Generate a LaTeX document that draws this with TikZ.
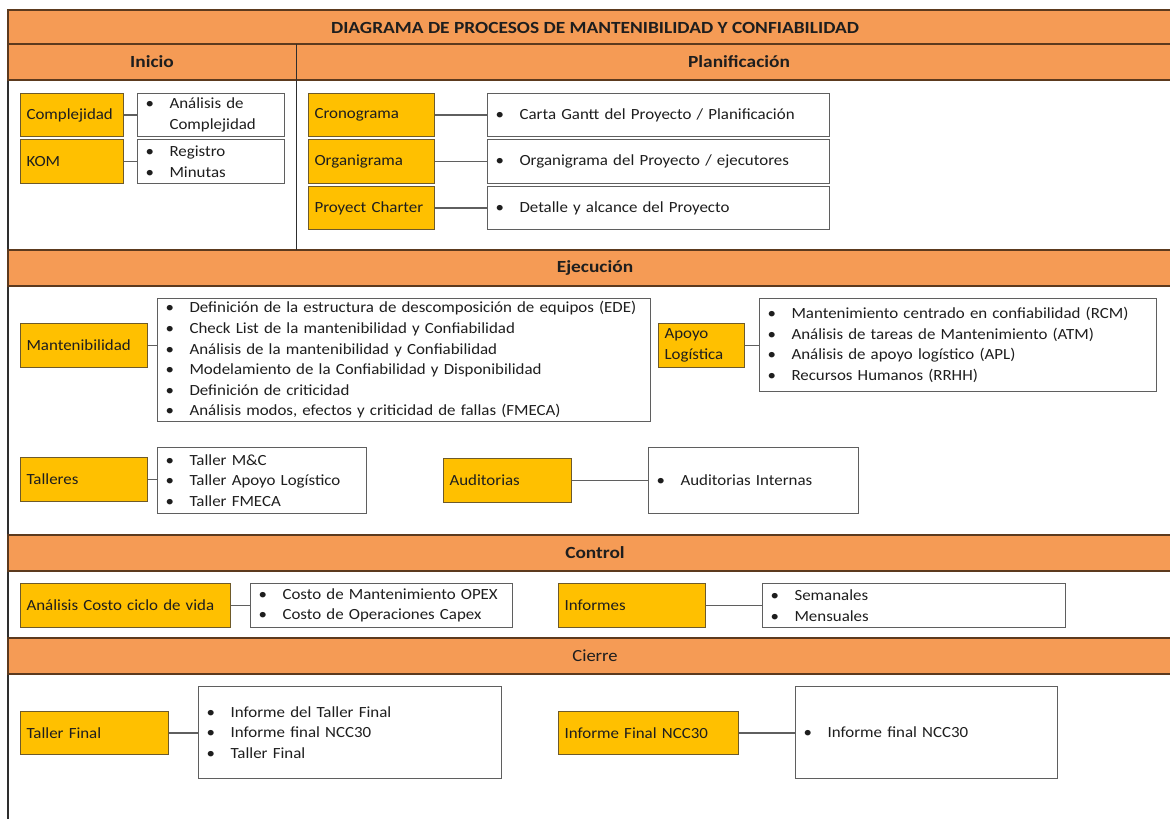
\documentclass[tikz,border=0pt]{standalone}
\usepackage{fontspec}
\setmainfont{Carlito}[FakeStretch=1.09, BoldFeatures={FakeStretch=1.14}]
\definecolor{barfill}{HTML}{F59B55}
\definecolor{barline}{HTML}{5C3A1E}
\definecolor{yfill}{HTML}{FFC000}
\definecolor{yline}{HTML}{6E5A2A}
\definecolor{lline}{HTML}{5F5F5F}
\definecolor{txt}{HTML}{1E1E1E}
\definecolor{frame}{HTML}{2E2E2E}
\newcommand\li{\hspace*{2pt}\makebox[24pt][l]{\textbullet}}
\newcommand\lc{\hspace*{26pt}}
\newcommand\bx[7]{%
  \pgfmathsetmacro\bxw{#5-#3-12}%
  \pgfmathsetmacro\bxh{#6-#4}%
  \node[#2, anchor=north west, text width=\bxw pt, minimum height=\bxh pt] (#1) at (#3,#4) {#7};}
\tikzset{
  base/.style={inner xsep=6pt, inner ysep=0pt, align=left, font=\fontsize{15.5}{20.6}\selectfont, text=txt, line width=1.1pt},
  ybox/.style={base, draw=yline, fill=yfill},
  lbox/.style={base, draw=lline, fill=white},
  bar/.style={draw=barline, fill=barfill, line width=1.3pt},
  bartext/.style={font=\bfseries\fontsize{17}{20}\selectfont, text=txt},
  barplain/.style={font=\fontsize{17}{20}\selectfont, text=txt},
  conn/.style={draw=lline, line width=1.2pt},
}
\begin{document}
\begin{tikzpicture}[x=1pt,y=-1pt]
\useasboundingbox (0,0) rectangle (1170,819);
\clip (0,0) rectangle (1170,819);
\fill[white] (0,0) rectangle (1170,819);
% outer frame
\draw[frame, line width=1.4pt] (8,10) rectangle (1182,830);
% bars
\draw[bar] (8,10) rectangle (1182,44);
\draw[bar] (8,44) rectangle (1182,80);
\draw[bar] (8,250) rectangle (1182,286);
\draw[bar] (8,535) rectangle (1182,571);
\draw[bar] (8,638) rectangle (1182,674);
\draw[frame, line width=1.2pt] (296.5,44) -- (296.5,250);
% bar texts
\node[bartext] (title) at (595,27.5) {DIAGRAMA DE PROCESOS DE MANTENIBILIDAD Y CONFIABILIDAD};
\node[bartext] (inicio) at (152,62) {Inicio};
\node[bartext] (plan) at (739,62) {Planificación};
\node[bartext] (ejec) at (595,268) {Ejecución};
\node[bartext] (ctrl) at (595,553) {Control};
\node[barplain] (cierre) at (595,656) {Cierre};
% Inicio
\bx{comp}{ybox}{20}{93}{123}{136}{Complejidad}
\bx{compL}{lbox}{137}{93}{284}{136}{\li Análisis de\\\lc Complejidad}
\bx{kom}{ybox}{20}{139}{123}{183}{KOM}
\bx{komL}{lbox}{137}{139}{284}{183}{\li Registro\\\li Minutas}
% Planificacion
\bx{cron}{ybox}{308}{93}{434}{136}{Cronograma}
\bx{cronL}{lbox}{487}{93}{829}{136}{\li Carta Gantt del Proyecto / Planificación}
\bx{org}{ybox}{308}{139}{434}{183}{Organigrama}
\bx{orgL}{lbox}{487}{139}{829}{183}{\li Organigrama del Proyecto / ejecutores}
\bx{pc}{ybox}{308}{186}{434}{229}{Proyect Charter}
\bx{pcL}{lbox}{487}{186}{829}{229}{\li Detalle y alcance del Proyecto}
% Ejecucion
\bx{mant}{ybox}{20}{323}{147}{367}{Mantenibilidad}
\bx{mantL}{lbox}{157}{298}{650}{421}{\li Definición de la estructura de descomposición de equipos (EDE)\\\li Check List de la mantenibilidad y Confiabilidad\\\li Análisis de la mantenibilidad y Confiabilidad\\\li Modelamiento de la Confiabilidad y Disponibilidad\\\li Definición de criticidad\\\li Análisis modos, efectos y criticidad de fallas (FMECA)}
\bx{apoyo}{ybox}{658}{323}{744}{367}{Apoyo\\Logística}
\bx{apoyoL}{lbox}{759}{298}{1156}{391}{\li Mantenimiento centrado en confiabilidad (RCM)\\\li Análisis de tareas de Mantenimiento (ATM)\\\li Análisis de apoyo logístico (APL)\\\li Recursos Humanos (RRHH)}
\bx{tall}{ybox}{20}{457}{147}{501}{Talleres}
\bx{tallL}{lbox}{157}{447}{366}{513}{\li Taller M\&C\\\li Taller Apoyo Logístico\\\li Taller FMECA}
\bx{aud}{ybox}{443}{458}{571}{502}{Auditorias}
\bx{audL}{lbox}{648}{447}{858}{513}{\li Auditorias Internas}
% Control
\bx{acv}{ybox}{20}{583}{230}{627}{Análisis Costo ciclo de vida}
\bx{acvL}{lbox}{250}{583}{512}{627}{\li Costo de Mantenimiento OPEX\\\li Costo de Operaciones Capex}
\bx{inf}{ybox}{558}{583}{705}{627}{Informes}
\bx{infL}{lbox}{762}{583}{1065}{627}{\li Semanales\\\li Mensuales}
% Cierre
\bx{tf}{ybox}{20}{711}{168}{754}{Taller Final}
\bx{tfL}{lbox}{198}{686}{501}{778}{\li Informe del Taller Final\\\li Informe final NCC30\\\li Taller Final}
\bx{ifn}{ybox}{558}{711}{738}{754}{Informe Final NCC30}
\bx{ifnL}{lbox}{795}{686}{1057}{778}{\li Informe final NCC30}
% connectors
\foreach \a/\b in {comp/compL,kom/komL,cron/cronL,org/orgL,pc/pcL,mant/mantL,apoyo/apoyoL,tall/tallL,aud/audL,acv/acvL,inf/infL,tf/tfL,ifn/ifnL}
  \draw[conn] (\a.east) -- (\a.east -| \b.west);
\end{tikzpicture}
\end{document}
